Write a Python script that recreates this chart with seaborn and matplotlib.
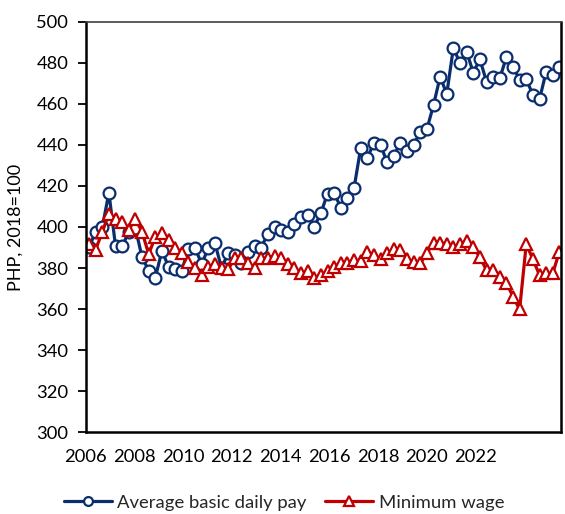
"""Average basic daily pay vs minimum wage, real terms (PHP, 2018=100)."""
import numpy as np
import pandas as pd
import matplotlib
matplotlib.use('Agg')
import matplotlib.pyplot as plt
import seaborn as sns

avg_pay = [390.1, 397.7, 399.8, 416.7, 390.7, 390.7, 397.5, 399.5, 385.3, 378.8,
           375.2, 388.4, 380.7, 379.7, 378.7, 389.4, 389.8, 382.0, 389.6, 392.2,
           380.0, 387.3, 386.4, 382.3, 388.0, 390.5, 390.0, 396.8, 400.0, 398.4,
           397.6, 401.5, 404.7, 405.6, 400.2, 406.7, 416.3, 416.7, 409.4, 414.0,
           418.8, 438.3, 433.5, 441.1, 440.0, 431.5, 434.6, 441.1, 437.0, 440.0,
           446.4, 447.6, 459.4, 473.2, 464.8, 487.3, 479.7, 485.4, 475.2, 481.7,
           470.8, 473.2, 472.4, 482.7, 478.1, 471.6, 472.1, 464.3, 462.2, 475.6,
           474.0, 478.1]
min_wage = [391.5, 389.0, 397.5, 406.5, 404.0, 402.3, 398.7, 403.8, 397.7, 386.8,
            395.0, 397.0, 393.8, 390.0, 387.5, 383.0, 380.0, 376.5, 380.7, 381.8,
            380.2, 379.4, 384.7, 384.7, 382.3, 380.2, 384.7, 384.7, 385.9, 384.7,
            381.8, 379.9, 377.7, 378.5, 375.0, 376.6, 378.7, 380.7, 382.6, 382.6,
            383.9, 383.6, 388.0, 386.4, 384.3, 387.2, 389.1, 388.8, 384.3, 383.1,
            382.3, 387.2, 392.4, 392.4, 391.7, 390.1, 391.7, 393.3, 390.1, 385.2,
            379.0, 379.0, 375.5, 372.9, 366.0, 359.9, 391.7, 384.3, 376.6, 377.4,
            377.4, 388.0]
year_labels = ['2006', '2008', '2010', '2012', '2014', '2016', '2018', '2020', '2022']

navy = '#0A2D6E'
red = '#C00000'

df = pd.DataFrame({'period': np.arange(len(avg_pay)),
                   'avg_pay': avg_pay, 'min_wage': min_wage})

sns.set_theme(style='ticks')
plt.rcParams['font.family'] = ['Lato', 'DejaVu Sans']

fig = plt.figure(figsize=(5.65, 5.14), dpi=100)
ax = fig.add_axes([0.1517, 0.159, 0.8407, 0.7988])

sns.lineplot(data=df, x='period', y='avg_pay', ax=ax, color=navy, lw=2.3,
             marker='o', ms=8.5, mfc='white', mec=navy, mew=1.6,
             label='Average basic daily pay')
sns.lineplot(data=df, x='period', y='min_wage', ax=ax, color=red, lw=2.3,
             marker='^', ms=9, mfc='white', mec=red, mew=1.6,
             label='Minimum wage')

ax.set_xlim(-0.15, 71.2)
ax.set_ylim(300, 500)
ax.set_yticks(np.arange(300, 501, 20))
ax.set_xticks(np.linspace(-0.5, 58.3, len(year_labels)))
ax.set_xticklabels(year_labels)
ax.tick_params(axis='x', length=0, pad=12, labelsize=13.2, colors='black')
ax.tick_params(axis='y', length=5.5, width=1.3, pad=7, labelsize=13.2,
               direction='out', colors='black')
ax.set_xlabel('')
ax.set_ylabel('PHP, 2018=100', fontsize=13, labelpad=9, color='black')

for side in ['left', 'bottom', 'right']:
    ax.spines[side].set_color('black')
    ax.spines[side].set_linewidth(1.8)
ax.spines['top'].set_color('#404040')
ax.spines['top'].set_linewidth(1.2)

ax.legend(loc='center', bbox_to_anchor=(0.4175, -0.172), ncol=2, frameon=False,
          fontsize=13.3, handlelength=2.6, handletextpad=0.3, columnspacing=1.0,
          markerscale=0.75)

fig.savefig('out.png', dpi=100)
